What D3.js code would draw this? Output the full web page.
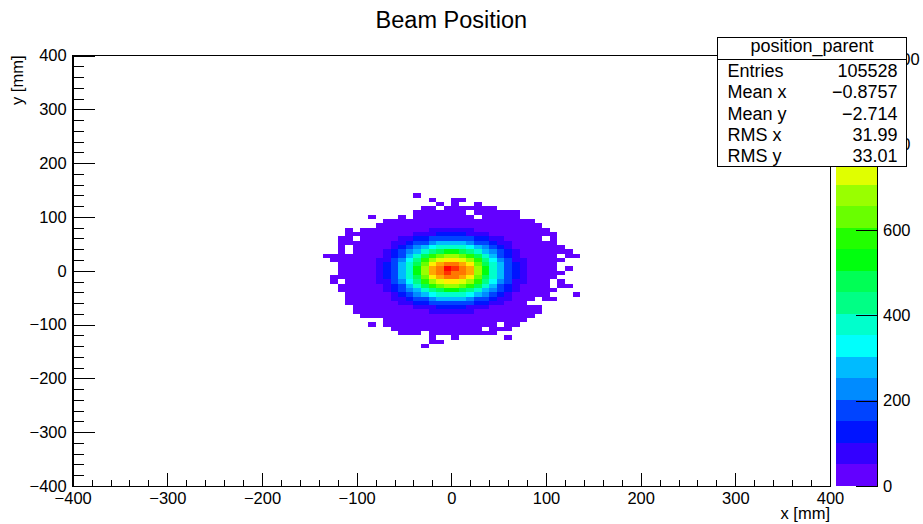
<!DOCTYPE html>
<html><head><meta charset="utf-8">
<script src="https://cdn.jsdelivr.net/npm/d3@7"></script>
<style>
html,body{margin:0;padding:0;background:#fff;}
svg{display:block;font-family:"Liberation Sans",Arial,Helvetica,sans-serif;}
</style></head><body>
<svg id="c" width="923" height="524"></svg>
<script>
// ---------------- data ----------------
const chartTitle = "Beam Position";
const xTitle = "x [mm]";
const yTitle = "y [mm]";
const xDomain = [-400, 400];
const yDomain = [-400, 400];
const binWidth = 8;                 // mm per bin (100 x 100 bins)
const xTicks = [-400, -300, -200, -100, 0, 100, 200, 300, 400];
const yTicks = [-400, -300, -200, -100, 0, 100, 200, 300, 400];
const zTicks = [0, 200, 400, 600, 800, 1000];
const zMax = 1008;                  // max bin content (top of colour scale)
const nLevels = 20;                 // contour levels
const gridFirstBin = -18;           // x bin index of first column (x = -144 mm)
const gridTopBin = 17;              // y bin index of first row (y = 136 mm)
// colour band read for each bin ('.' empty, 0-9 then a-j = band 0..19)
const bandRows = [
  ".............0....................",
  "...............0..00................",
  "................0.0..0..............",
  "..............00.0000000............",
  ".............0000000.000000.........",
  ".......0...0.00000000.00000.........",
  ".........00000000000000000000.......",
  "........0000000000000000000000......",
  "....0.0000000001111110000000000.....",
  "....0000000001112222111000000000....",
  "...00.000001122333333221100000.0....",
  "...00000001123345555433211000000....",
  "...0.0000012345677776543210000000...",
  "...0.000012345789aa987543210000000..",
  ".00000000123579bcddcb97532100000.00.",
  "..000000113468bdeffedb86431100000...",
  "...00000123579cfghhgfc9753210000....",
  "...0000012357adghjihgda753210000.0..",
  "...0000012357adghihhgda7532100000...",
  "..000000123579cfghhgfc9753210000....",
  "..0.0000113468bdeffedb864311000.0...",
  "...000000123579bcddcb9753210000.00..",
  "...00000012345789aa9875432100000....",
  "....000000123456777765432100000...0.",
  "....0000001123345555433211000.00....",
  "....000000011223333332211000........",
  ".....0000000011122221110000000......",
  ".....0000000000111111000000000......",
  "......00000000000000000000000.......",
  ".........0000000000000000000........",
  ".......0.000000000000000.00.........",
  "..........000000000000.000..........",
  "...........000.000000000............",
  "...............0..0......0..........",
  "...............00...................",
  "..............0....................."
];
const statsName = "position_parent";
const statsLabels = ["Entries", "Mean x", "Mean y", "RMS x", "RMS y"];
const statsValues = ["105528", "\u22120.8757", "\u22122.714", "31.99", "33.01"];

// ---------------- layout ----------------
const frame = {l: 72.7, r: 830, t: 55.5, b: 486};
const bar = {l: 835.7, r: 877};
const svg = d3.select("#c");
const x = d3.scaleLinear().domain(xDomain).range([frame.l, frame.r]);
const y = d3.scaleLinear().domain(yDomain).range([frame.b, frame.t]);
const z = d3.scaleLinear().domain([0, zMax]).range([frame.b, frame.t]);

// ROOT "pretty" violet->red palette, 20 contour colours
const palette = d3.range(nLevels).map(c => {
  const p = Math.floor((c + 0.99) * 50 / nLevels);
  return d3.hsl(280 - (p + 1) * 5.6, 1, 0.5).formatHex();
});
const color = d3.scaleQuantize().domain([0, zMax]).range(palette);

const code = "0123456789abcdefghij";
const cells = [];
bandRows.forEach((row, r) => {
  const iy = gridTopBin - r;
  [...row].forEach((ch, k) => {
    if (ch === ".") return;
    const band = code.indexOf(ch);
    const x0 = (gridFirstBin + k) * binWidth;
    cells.push({x0, x1: x0 + binWidth, y0: iy * binWidth, y1: (iy + 1) * binWidth,
                count: (band + 0.5) * zMax / nLevels});
  });
});

svg.append("g").attr("shape-rendering", "crispEdges")
  .selectAll("rect").data(cells).join("rect")
  .attr("x", d => Math.round(x(d.x0)))
  .attr("y", d => Math.round(y(d.y1)))
  .attr("width", d => Math.round(x(d.x1)) - Math.round(x(d.x0)))
  .attr("height", d => Math.round(y(d.y0)) - Math.round(y(d.y1)))
  .attr("fill", d => color(d.count));

// frame
svg.append("rect").attr("x", frame.l).attr("y", frame.t)
  .attr("width", frame.r - frame.l).attr("height", frame.b - frame.t)
  .attr("fill", "none").attr("stroke", "#000").attr("stroke-width", 1)
  .attr("shape-rendering", "crispEdges");

const fmt = d3.format("d");
const xMinor = d3.range(xDomain[0], xDomain[1] + 1, 20);
const yMinor = d3.range(yDomain[0], yDomain[1] + 1, 20);
const xTickLen = 0.03 * (frame.b - frame.t);
const yTickLen = 0.03 * (frame.r - frame.l);

function style(g, size) {
  g.attr("font-family", null).attr("font-size", size);
  g.selectAll("line,path").attr("stroke", "#000").attr("shape-rendering", "crispEdges");
  g.selectAll("text").attr("fill", "#000");
}

// x axis
svg.append("g").attr("transform", `translate(0,${frame.b})`)
  .call(d3.axisBottom(x).tickValues(xMinor).tickSizeInner(-xTickLen / 2).tickSizeOuter(0).tickFormat(""))
  .call(g => style(g, 16.5));
svg.append("g").attr("transform", `translate(0,${frame.b})`)
  .call(d3.axisBottom(x).tickValues(xTicks).tickSizeInner(-xTickLen).tickSizeOuter(0).tickPadding(6).tickFormat(fmt))
  .call(g => style(g, 16.5))
  .call(g => g.selectAll("text").attr("dy", "0.71em"));

// y axis
svg.append("g").attr("transform", `translate(${frame.l},0)`)
  .call(d3.axisLeft(y).tickValues(yMinor).tickSizeInner(-yTickLen / 2).tickSizeOuter(0).tickFormat(""))
  .call(g => style(g, 16.5));
svg.append("g").attr("transform", `translate(${frame.l},0)`)
  .call(d3.axisLeft(y).tickValues(yTicks).tickSizeInner(-yTickLen).tickSizeOuter(0).tickPadding(6).tickFormat(fmt))
  .call(g => style(g, 16.5));

// colour bar
const bands = palette.map(c => { const e = color.invertExtent(c); return {c, lo: e[0], hi: e[1]}; });
svg.append("g").attr("shape-rendering", "crispEdges")
  .selectAll("rect").data(bands).join("rect")
  .attr("x", bar.l).attr("width", bar.r - bar.l)
  .attr("y", d => z(d.hi)).attr("height", d => z(d.lo) - z(d.hi))
  .attr("fill", d => d.c);
svg.append("g").attr("transform", `translate(${bar.r},0)`)
  .call(d3.axisRight(z).tickValues(zTicks).tickSizeInner(-21).tickSizeOuter(0).tickPadding(6).tickFormat(fmt))
  .call(g => style(g, 16.5));

// titles
svg.append("text").attr("x", (frame.l + frame.r) / 2).attr("y", 28)
  .attr("text-anchor", "middle").attr("font-size", 23.5).text(chartTitle);
svg.append("text").attr("x", frame.r).attr("y", 519)
  .attr("text-anchor", "end").attr("font-size", 16.5).text(xTitle);
svg.append("text").attr("transform", `translate(23,${frame.t}) rotate(-90)`)
  .attr("text-anchor", "end").attr("font-size", 16.5).text(yTitle);

// stats box
const sb = {l: 717.5, r: 906.5, t: 37, b: 166.5, sep: 59};
const sg = svg.append("g");
sg.append("rect").attr("x", sb.l).attr("y", sb.t).attr("width", sb.r - sb.l).attr("height", sb.b - sb.t)
  .attr("fill", "#fff").attr("stroke", "#000").attr("shape-rendering", "crispEdges");
sg.append("line").attr("x1", sb.l).attr("x2", sb.r).attr("y1", sb.sep).attr("y2", sb.sep)
  .attr("stroke", "#000").attr("shape-rendering", "crispEdges");
sg.append("text").attr("x", (sb.l + sb.r) / 2).attr("y", 52).attr("text-anchor", "middle")
  .attr("font-size", 18).text(statsName);
const rowY = d3.scalePoint().domain(statsLabels).range([77, 162]);
sg.selectAll("text.lab").data(statsLabels).join("text").attr("class", "lab")
  .attr("x", sb.l + 10).attr("y", d => rowY(d)).attr("font-size", 18).text(d => d);
sg.selectAll("text.val").data(statsValues).join("text").attr("class", "val")
  .attr("x", sb.r - 9).attr("y", (d, i) => rowY(statsLabels[i])).attr("text-anchor", "end")
  .attr("font-size", 18).text(d => d);
</script>
</body></html>
